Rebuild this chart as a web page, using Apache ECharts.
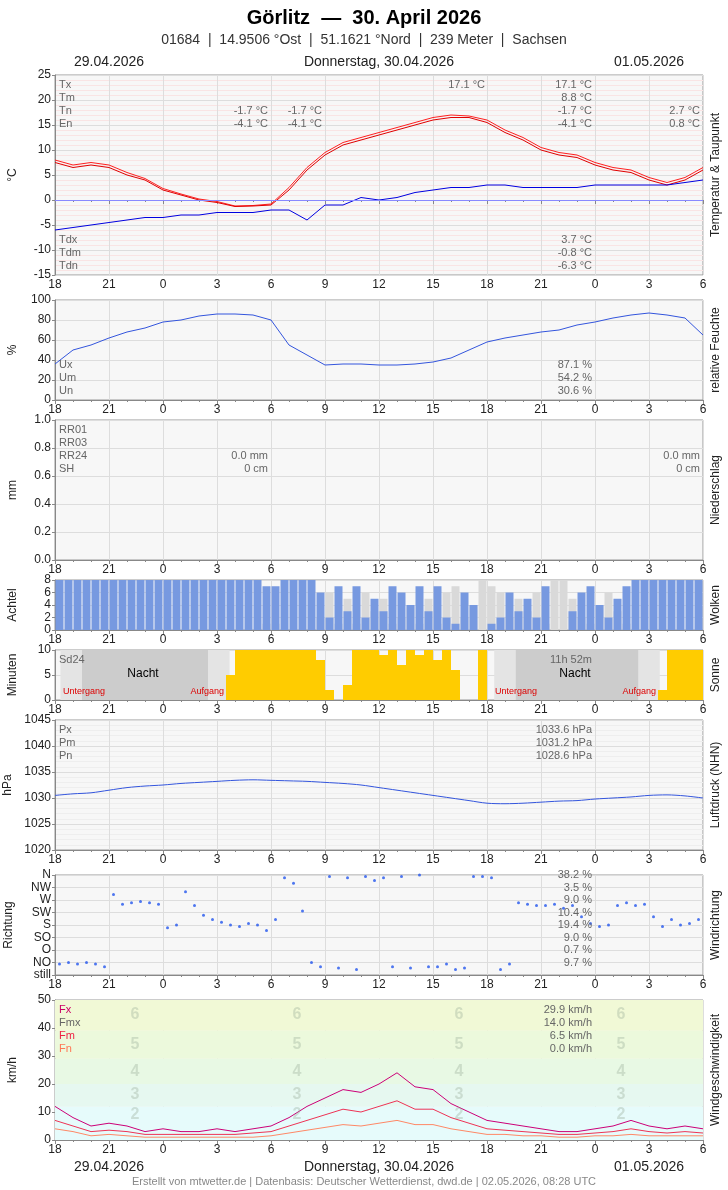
<!DOCTYPE html><html><head><meta charset="utf-8"><script src="https://cdn.jsdelivr.net/npm/echarts@6/dist/echarts.min.js"></script>
<style>body{margin:0}#c{width:728px;height:1190px}</style></head><body><div id="c"></div><script>
// hourly values, index 0 = 18:00 on 29.04 ... 36 = 06:00 on 01.05
const temp = [7.5,6.5,7,6.5,5,4,2,1,0,-0.5,-1.3,-1.2,-1,2,6,9,11,12,13,14,15,16,16.5,16.5,15.5,13.5,12,10,9,8.5,7,6,5.5,4,3,4,6];
const temp2 = [8,7,7.5,7,5.5,4.3,2.3,1.2,0.2,-0.3,-1.2,-1.1,-0.8,2.5,6.5,9.5,11.5,12.5,13.5,14.5,15.5,16.5,17,16.8,16,14,12.5,10.5,9.5,9,7.5,6.5,6,4.5,3.5,4.5,6.5];
const dew = [-6,-5.5,-5,-4.5,-4,-3.5,-3.5,-3,-3,-2.5,-2.5,-2.5,-2,-2,-4,-1,-1,0.5,0,0.5,1.5,2,2.5,2.5,3,3,2.5,2.5,2.5,2.5,3,3,3,3,3,3.5,4];
const hum = [36,50,55,62,68,72,78,80,84,86,86,85,80,55,45,35,36,36,35,35,36,38,42,50,58,62,65,68,70,75,78,82,85,87,85,82,65];
const press = [1030.5,1030.8,1031,1031.5,1032,1032.3,1032.5,1032.8,1033,1033.2,1033.4,1033.5,1033.4,1033.3,1033.2,1033,1032.8,1032.5,1032,1031.5,1031,1030.5,1030,1029.5,1029,1028.9,1029,1029.2,1029.4,1029.5,1029.8,1030,1030.2,1030.5,1030.6,1030.4,1030];
const gust = [12,8,5,6,5,3,4,3,3,4,3,4,5,8,12,15,18,17,20,24,19,18,13,10,7,6,5,4,3,3,4,5,7,5,4,5,4];
const wmean = [7,5,3,3.5,3,2,2,2,2,2,2,2.5,3,5,7,9,11,10,12,14,11,11,8,6,4,3.5,3,2.5,2,2,2.5,3,4,3,2.5,3,2.5];
const wmin = [4,3,1.5,2,1.5,1,1,1,1,1,1,1,1.5,2.5,3.5,4.5,5.5,5,6,7,5.5,5.5,4,3,2,2,1.5,1.5,1,1,1.5,1.5,2,1.5,1.5,1.5,1.5];
// half-hour values, index 0 = 18:00-18:30
const clouds = [8,8,8,8,8,8,8,8,8,8,8,8,8,8,8,8,8,8,8,8,8,8,8,7,7,8,8,8,8,6,2,7,3,7,2,5,3,7,6,4,7,3,7,2,1,6,4,0,1,2,6,3,5,2,7,0,0,3,6,7,4,2,5,7,8,8,8,8,8,8,8,8];
const sun = [0,0,0,0,0,0,0,0,0,0,0,0,0,0,0,0,0,0,0,5,10,10,10,10,10,10,10,10,10,8,2,0,3,10,10,10,9,10,7,10,9,10,8,10,6,0,0,10,0,0,0,0,0,0,0,0,0,0,0,0,0,0,0,0,0,0,0,2,10,10,10,10];
const wdir = [40,45,40,45,40,30,290,255,260,265,260,255,170,180,300,250,215,200,190,180,175,185,180,160,200,350,330,230,45,30,355,25,350,20,355,340,350,30,355,25,360,30,30,40,20,25,355,355,350,20,40,260,255,250,250,255,240,250,210,185,175,180,250,260,250,255,210,175,200,180,185,200];
const hourLabels = v => String((v+18)%24);
const dirLabels = {0:'still',45:'NO',90:'O',135:'SO',180:'S',225:'SW',270:'W',315:'NW',360:'N'};

const grids = [[75,200],[300,100],[420,140],[580,50],[650,50],[720,130],[875,100],[1000,140]];
const yCfg = [
 {min:-15,max:25,interval:5,name:'°C'},{min:0,max:100,interval:20,name:'%'},
 {min:0,max:1,interval:0.2,name:'mm',fmt:v=>v.toFixed(1)},{min:0,max:8,interval:2,name:'Achtel'},
 {min:0,max:10,interval:5,name:'Minuten'},{min:1020,max:1045,interval:5,name:'hPa'},
 {min:0,max:360,interval:45,name:'Richtung',fmt:v=>dirLabels[v]},{min:0,max:50,interval:10,name:'km/h'}];
const rightNames = ['Temperatur & Taupunkt','relative Feuchte','Niederschlag','Wolken','Sonne','Luftdruck (NHN)','Windrichtung','Windgeschwindigkeit'];
const pairs = a => a.map((v,i)=>[i,v]);
const half = a => a.map((v,i)=>[i*0.5+0.25,v]);

const option = {animation:false,
 grid: grids.map(g=>({left:55,right:25,top:g[0],height:g[1],show:true,backgroundColor:'#f7f7f7',borderColor:'#999',borderWidth:1,containLabel:false,outerBoundsMode:'none'})),
 xAxis: grids.map((g,i)=>({gridIndex:i,type:'value',min:0,max:36,interval:3,
   axisLabel:{formatter:hourLabels,color:'#222',fontSize:12,margin:4},axisTick:{show:true,length:4,lineStyle:{color:'#888'}},
   minorTick:{show:true,splitNumber:3,length:2},axisLine:{lineStyle:{color:'#888'}},
   splitLine:{lineStyle:{color:'#ddd'}},minorSplitLine:{show:false}})),
 yAxis: yCfg.map((c,i)=>({gridIndex:i,type:'value',min:c.min,max:c.max,interval:c.interval,name:c.name,nameLocation:'middle',nameGap:i==6?40:36,nameRotate:90,
   nameTextStyle:{color:'#222',fontSize:12},axisLabel:{color:'#222',fontSize:12,margin:4,formatter:c.fmt||(v=>String(v))},axisLine:{show:true,lineStyle:{color:'#888'}},axisTick:{show:true,length:3},
   splitLine:{lineStyle:{color:'#ddd'}},minorSplitLine:{show:i==0||i==5,lineStyle:{color:i==0?'#f9e4e4':'#eeeeee'}},minorTick:{splitNumber:5}})),
 series:[
  {type:'line',xAxisIndex:0,yAxisIndex:0,data:pairs(temp2),showSymbol:false,lineStyle:{color:'#ff2020',width:1}},
  {type:'line',xAxisIndex:0,yAxisIndex:0,data:pairs(temp),showSymbol:false,lineStyle:{color:'#e00000',width:1},
   markLine:{silent:true,symbol:'none',label:{show:false},lineStyle:{color:'#8888ff',type:'solid',width:1},data:[{yAxis:0}]}},
  {type:'line',xAxisIndex:0,yAxisIndex:0,data:pairs(dew),showSymbol:false,lineStyle:{color:'#0000e0',width:1}},
  {type:'line',xAxisIndex:1,yAxisIndex:1,data:pairs(hum),showSymbol:false,lineStyle:{color:'#3355dd',width:1}},
  {type:'bar',xAxisIndex:3,yAxisIndex:3,stack:'c',barWidth:8,data:half(clouds.map(v=>8-v)),itemStyle:{color:'#d9d9d9'}},
  {type:'bar',xAxisIndex:3,yAxisIndex:3,stack:'c',barWidth:8,data:half(clouds),itemStyle:{color:'#7799e0'}},
  {type:'bar',xAxisIndex:4,yAxisIndex:4,barWidth:9,data:half(sun),itemStyle:{color:'#ffcc00'},
   markArea:{silent:true,data:[[{xAxis:0.3,itemStyle:{color:'#e4e4e4'}},{xAxis:9.7}],[{xAxis:1.5,itemStyle:{color:'#cccccc'}},{xAxis:8.5}],
     [{xAxis:24.4,itemStyle:{color:'#e4e4e4'}},{xAxis:33.6}],[{xAxis:25.6,itemStyle:{color:'#cccccc'}},{xAxis:32.4}]]}},
  {type:'line',xAxisIndex:5,yAxisIndex:5,data:pairs(press),showSymbol:false,smooth:0.3,lineStyle:{color:'#3355dd',width:1}},
  {type:'scatter',xAxisIndex:6,yAxisIndex:6,data:half(wdir),symbolSize:3,itemStyle:{color:'#2255ee'}},
  {type:'line',xAxisIndex:7,yAxisIndex:7,data:pairs(gust),showSymbol:false,lineStyle:{color:'#cc0077',width:1},
   markArea:{silent:true,data:[[{yAxis:0,itemStyle:{color:'#e6fbfb'}},{yAxis:12}],[{yAxis:12,itemStyle:{color:'#e6f8f0'}},{yAxis:20}],
    [{yAxis:20,itemStyle:{color:'#e8f9e4'}},{yAxis:29}],[{yAxis:29,itemStyle:{color:'#ecf9dc'}},{yAxis:39}],[{yAxis:39,itemStyle:{color:'#f1f9d6'}},{yAxis:50}]]}},
  {type:'line',xAxisIndex:7,yAxisIndex:7,data:pairs(wmean),showSymbol:false,lineStyle:{color:'#ee3355',width:1}},
  {type:'line',xAxisIndex:7,yAxisIndex:7,data:pairs(wmin),showSymbol:false,lineStyle:{color:'#ff8866',width:1}}
 ],
 graphic:[]};
const G = option.graphic;
function T(x,y,text,o){o=o||{};G.push({type:'text',x:x,y:y,rotation:o.rot||0,z:100,style:{text:text,fill:o.c||'#666',font:(o.b?'bold ':'')+(o.s||11)+'px "Liberation Sans",Arial,sans-serif',textAlign:o.a||'left',textVerticalAlign:'middle'}});}
T(364,18,'Görlitz  —  30. April 2026',{s:20,b:true,c:'#000',a:'center'});
T(364,40,'01684  |  14.9506 °Ost  |  51.1621 °Nord  |  239 Meter  |  Sachsen',{s:14,c:'#333',a:'center'});
[[62],[1167]].forEach(([y])=>{T(109,y,'29.04.2026',{s:14,c:'#222',a:'center'});T(379,y,'Donnerstag, 30.04.2026',{s:14,c:'#222',a:'center'});T(649,y,'01.05.2026',{s:14,c:'#222',a:'center'});});
T(364,1182,'Erstellt von mtwetter.de | Datenbasis: Deutscher Wetterdienst, dwd.de | 02.05.2026, 08:28 UTC',{s:11,c:'#888',a:'center'});
grids.forEach((g,i)=>T(716,g[0]+g[1]/2,rightNames[i],{s:12,c:'#222',a:'center',rot:Math.PI/2}));
['Tx','Tm','Tn','En'].forEach((t,i)=>T(59,85+i*13,t));
T(485,85,'17.1 °C',{a:'right'});
['17.1 °C','8.8 °C','-1.7 °C','-4.1 °C'].forEach((t,i)=>T(592,85+i*13,t,{a:'right'}));
T(268,111,'-1.7 °C',{a:'right'});T(268,124,'-4.1 °C',{a:'right'});T(322,111,'-1.7 °C',{a:'right'});T(322,124,'-4.1 °C',{a:'right'});
T(700,111,'2.7 °C',{a:'right'});T(700,124,'0.8 °C',{a:'right'});
['Tdx','Tdm','Tdn'].forEach((t,i)=>T(59,240+i*13,t));
['3.7 °C','-0.8 °C','-6.3 °C'].forEach((t,i)=>T(592,240+i*13,t,{a:'right'}));
['Ux','Um','Un'].forEach((t,i)=>T(59,365+i*13,t));
['87.1 %','54.2 %','30.6 %'].forEach((t,i)=>T(592,365+i*13,t,{a:'right'}));
['RR01','RR03','RR24','SH'].forEach((t,i)=>T(59,430+i*13,t));
T(268,456,'0.0 mm',{a:'right'});T(268,469,'0 cm',{a:'right'});T(700,456,'0.0 mm',{a:'right'});T(700,469,'0 cm',{a:'right'});
T(59,660,'Sd24');T(592,660,'11h 52m',{a:'right'});
T(143,674,'Nacht',{s:12,c:'#000',a:'center'});T(575,674,'Nacht',{s:12,c:'#000',a:'center'});
T(63,692,'Untergang',{s:9,c:'#dd0000'});T(224,692,'Aufgang',{s:9,c:'#dd0000',a:'right'});
T(495,692,'Untergang',{s:9,c:'#dd0000'});T(656,692,'Aufgang',{s:9,c:'#dd0000',a:'right'});
['Px','Pm','Pn'].forEach((t,i)=>T(59,730+i*13,t));
['1033.6 hPa','1031.2 hPa','1028.6 hPa'].forEach((t,i)=>T(592,730+i*13,t,{a:'right'}));
['38.2 %','3.5 %','9.0 %','10.4 %','19.4 %','9.0 %','0.7 %','9.7 %'].forEach((t,i)=>T(592,875+i*12.5,t,{a:'right'}));
[['Fx','#cc0066'],['Fmx','#666'],['Fm','#ee2244'],['Fn','#ff7755']].forEach(([t,c],i)=>T(59,1010+i*13,t,{c:c}));
['29.9 km/h','14.0 km/h','6.5 km/h','0.0 km/h'].forEach((t,i)=>T(592,1010+i*13,t,{a:'right'}));
[135,297,459,621].forEach(x=>[[6,1015],[5,1045],[4,1072],[3,1095],[2,1115]].forEach(([n,y])=>T(x,y,String(n),{s:16,b:true,c:'rgba(150,170,150,0.35)',a:'center'})));
echarts.init(document.getElementById('c')).setOption(option);
</script></body></html>
